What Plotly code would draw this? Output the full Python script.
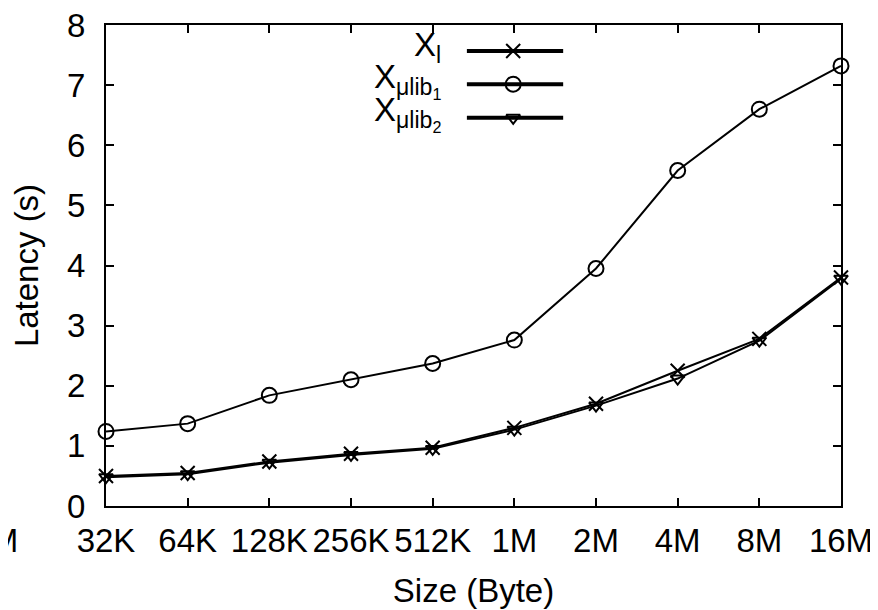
import plotly.graph_objects as go

sizes = ["32K", "64K", "128K", "256K", "512K", "1M", "2M", "4M", "8M", "16M"]
x_l = [0.50, 0.55, 0.74, 0.87, 0.97, 1.30, 1.70, 2.25, 2.78, 3.80]
x_ulib1 = [1.24, 1.37, 1.84, 2.10, 2.37, 2.76, 3.95, 5.58, 6.60, 7.32]
x_ulib2 = [0.48, 0.53, 0.72, 0.85, 0.95, 1.27, 1.67, 2.12, 2.75, 3.78]
y_ticks = [0, 1, 2, 3, 4, 5, 6, 7, 8]

series = [
    ("X<sub>l</sub>", x_l, "x-thin-open", 14),
    ("X<sub>μlib<sub>1</sub></sub>", x_ulib1, "circle-open", 15),
    ("X<sub>μlib<sub>2</sub></sub>", x_ulib2, "triangle-down-open", 12),
]
legend_y = [0.946, 0.877, 0.807]

FONT = "Liberation Sans, Arial, sans-serif"
FS = 33
fig = go.Figure()
xs = list(range(len(sizes)))
for name, vals, sym, ms in series:
    fig.add_trace(go.Scatter(
        x=xs, y=vals, mode="lines+markers", name=name, showlegend=False,
        line=dict(color="black", width=2),
        marker=dict(symbol=sym, size=ms, color="black", line=dict(color="black", width=2)),
        cliponaxis=False,
    ))

# gnuplot-style key: text at left, sample at right
for (name, vals, sym, ms), ly in zip(series, legend_y):
    fig.add_trace(go.Scatter(
        x=[0.491, 0.622], y=[ly, ly], mode="lines", xaxis="x2", yaxis="y2",
        line=dict(color="black", width=4), showlegend=False, hoverinfo="skip"))
    fig.add_trace(go.Scatter(
        x=[0.554], y=[ly], mode="markers", xaxis="x2", yaxis="y2",
        marker=dict(symbol=sym, size=ms, color="black", line=dict(color="black", width=2)),
        showlegend=False, hoverinfo="skip"))
    fig.add_annotation(x=0.458, y=ly, xref="x domain", yref="y domain", text=name,
                       showarrow=False, xanchor="right", yanchor="middle", yshift=4,
                       font=dict(family=FONT, size=FS, color="black"))

# partially visible label from neighbouring panel
fig.add_annotation(x=-0.117, y=-0.0707, xref="x domain", yref="y domain", text="16M",
                   showarrow=False, xanchor="right", yanchor="middle",
                   font=dict(family=FONT, size=FS, color="black"))

axis_common = dict(
    showline=True, linecolor="black", linewidth=2, mirror="ticks",
    ticks="inside", ticklen=8, tickwidth=2, tickcolor="black",
    showgrid=False, zeroline=False, automargin=False, ticklabeloverflow="allow",
    tickfont=dict(family=FONT, size=FS, color="black"),
)
# the page adds an 8px body margin, so margins are offset to compensate
fig.update_layout(
    width=878, height=610,
    margin=dict(l=98, r=45, t=17, b=112),
    plot_bgcolor="white", paper_bgcolor="white",
    xaxis=dict(range=[0, len(sizes) - 1], tickmode="array", tickvals=xs, ticktext=sizes,
               title=dict(text="Size (Byte)", font=dict(family=FONT, size=FS, color="black"), standoff=21),
               ticklabelstandoff=4, **axis_common),
    yaxis=dict(range=[0, 8], tickmode="array", tickvals=y_ticks,
               title=dict(text="Latency (s)", font=dict(family=FONT, size=FS, color="black"), standoff=18),
               ticklabelstandoff=12, **axis_common),
    xaxis2=dict(overlaying="x", range=[0, 1], visible=False, anchor="y2"),
    yaxis2=dict(overlaying="y", range=[0, 1], visible=False, anchor="x2"),
    showlegend=False,
)
fig.write_html("out.html")
